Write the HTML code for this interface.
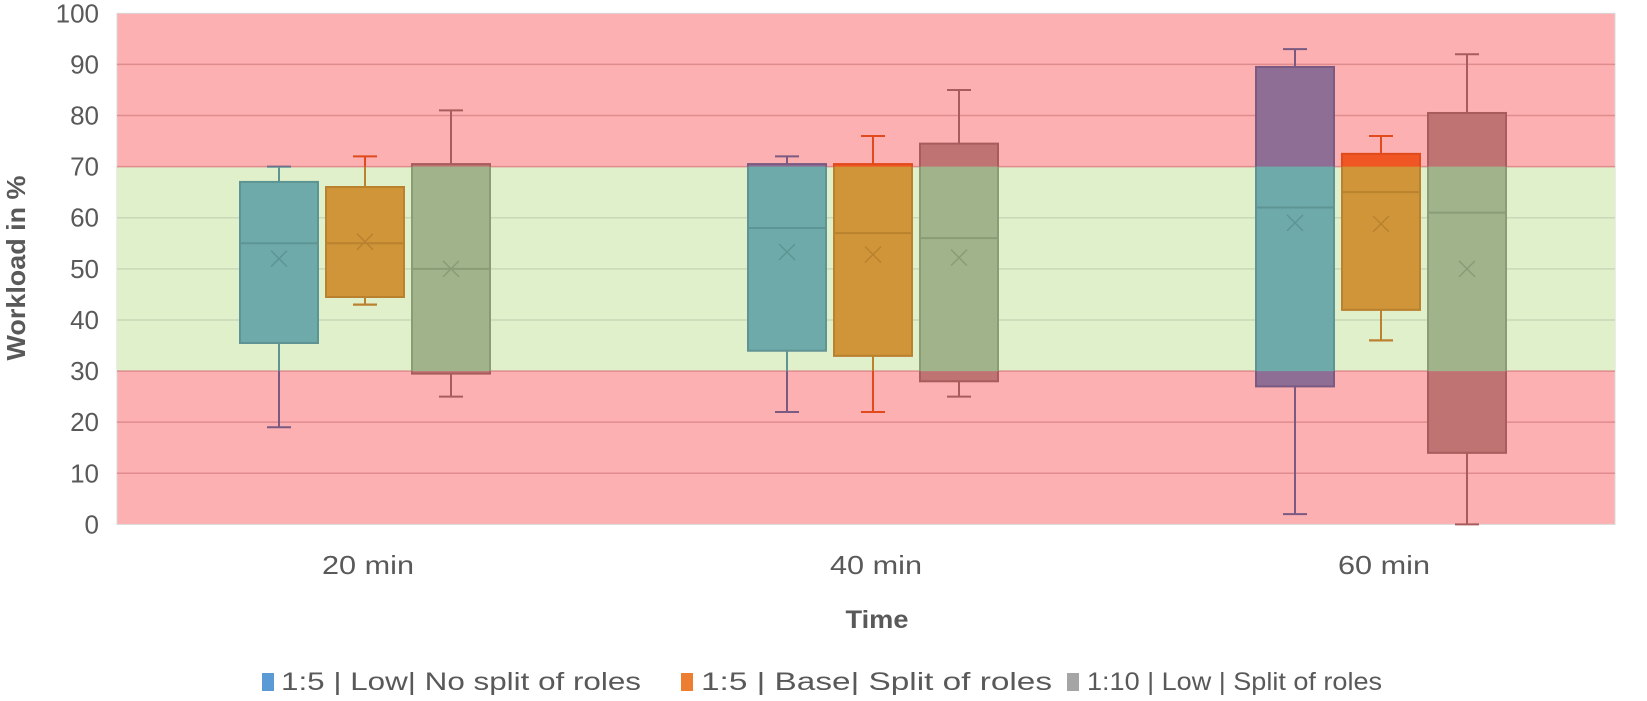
<!DOCTYPE html>
<html><head><meta charset="utf-8"><style>
body{margin:0;background:#fff;}
svg{display:block;font-family:"Liberation Sans",sans-serif;}
</style></head><body>
<svg id="chart" width="1647" height="701" viewBox="0 0 1647 701">
<defs>
<clipPath id="greenClip"><rect id="gclip" x="0" y="0" width="1647" height="0"/></clipPath>
</defs>
<g id="bands"></g>
<g id="grid"></g>
<g id="boxes"></g>
<g id="yticks"></g>
<g id="xticks"></g>
<text x="25" y="268" transform="rotate(-90 25 268)" text-anchor="middle" font-size="26" font-weight="bold" fill="#595959" textLength="185" lengthAdjust="spacingAndGlyphs">Workload in %</text>
<text x="877" y="628" text-anchor="middle" font-size="25" font-weight="bold" fill="#595959" textLength="63" lengthAdjust="spacingAndGlyphs">Time</text>
<g font-size="25" fill="#595959">
<g><rect x="262" y="673" width="12" height="18" fill="#5b9bd5"/><text x="281" y="690" textLength="360" lengthAdjust="spacingAndGlyphs">1:5 | Low| No split of roles</text></g>
<g><rect x="681" y="673" width="12" height="18" fill="#ed7d31"/><text x="701" y="690" textLength="351" lengthAdjust="spacingAndGlyphs">1:5 | Base| Split of roles</text></g>
<g><rect x="1067" y="673" width="12" height="18" fill="#a5a5a5"/><text x="1087" y="690" textLength="295" lengthAdjust="spacingAndGlyphs">1:10 | Low | Split of roles</text></g>
</g>
</svg>
<script>
const categories = ["20 min","40 min","60 min"];
const seriesNames = ["1:5 | Low| No split of roles","1:5 | Base| Split of roles","1:10 | Low | Split of roles"];
const whiskerLow  = [[19,43,25],[22,22,25],[2,36,0]];
const q1          = [[35.5,44.5,29.5],[34,33,28],[27,42,14]];
const median      = [[55,55,50],[58,57,56],[62,65,61]];
const q3          = [[67,66,70.5],[70.5,70.5,74.5],[89.5,72.5,80.5]];
const whiskerHigh = [[70,72,81],[72,76,85],[93,76,92]];
const means       = [[52,55.3,50],[53.3,52.8,52.2],[59,58.8,50]];
const yTicks = [0,10,20,30,40,50,60,70,80,90,100];
const greenBand = [30,70];

const NS="http://www.w3.org/2000/svg";
const L=117,R=1615,T=13.3,B=524.4;
const y=v=>B-(v/100)*(B-T);
const groupW=508;
const gx=i=>L-3+groupW*(i+0.5);
const xc=(i,s)=>gx(i)-3+(s-1)*86;
const BW=78;
const colRed=["#8e6e94","#ef5624","#c07373"];
const colGreen=["#6eaaa9","#d19539","#a0b38b"];
const lineRed=["#7a5a80","#e04a1c","#a85c5c"];
const lineGreen=["#5e9494","#b8822e","#8a9c76"];
function mk(tag,attrs,parent){const e=document.createElementNS(NS,tag);for(const k in attrs)e.setAttribute(k,attrs[k]);parent.appendChild(e);return e;}

const bands=document.getElementById('bands');
let r1=mk('rect',{x:L,y:T,width:R-L,height:B-T,fill:'#fdb0b1',stroke:'#d9d9d9','stroke-width':1},bands);


let r2=mk('rect',{x:L,y:y(greenBand[1]),width:R-L,height:y(greenBand[0])-y(greenBand[1]),fill:'#dff0cb'},bands);


const gc=document.getElementById('gclip');
gc.setAttribute('y',y(greenBand[1]));gc.setAttribute('height',y(greenBand[0])-y(greenBand[1]));

const grid=document.getElementById('grid'),yt=document.getElementById('yticks');
yTicks.forEach(v=>{
  const inG=v>greenBand[0]&&v<greenBand[1];
  if(v>0&&v<100){let g=mk('line',{x1:L,x2:R,y1:y(v),y2:y(v),stroke:inG?'#c9d8b8':'#e08c8f','stroke-width':1.5},grid);
  
  }
  let t=mk('text',{x:99,y:y(v)+9,'text-anchor':'end','font-size':26,fill:'#595959'},yt);t.textContent=v;
  
  
});

const xt=document.getElementById('xticks');
categories.forEach((c,i)=>{let t=mk('text',{x:gx(i),y:574,'text-anchor':'middle','font-size':26,fill:'#595959',textLength:92,lengthAdjust:'spacingAndGlyphs'},xt);t.textContent=c;

});

const boxes=document.getElementById('boxes');
function drawBox(parent,i,s,fill,line){
  const cx=xc(i,s);
  mk('line',{x1:cx,x2:cx,y1:y(whiskerHigh[i][s]),y2:y(q3[i][s]),stroke:line,'stroke-width':2},parent);
  mk('line',{x1:cx,x2:cx,y1:y(q1[i][s]),y2:y(whiskerLow[i][s]),stroke:line,'stroke-width':2},parent);
  mk('line',{x1:cx-12,x2:cx+12,y1:y(whiskerHigh[i][s]),y2:y(whiskerHigh[i][s]),stroke:line,'stroke-width':2},parent);
  mk('line',{x1:cx-12,x2:cx+12,y1:y(whiskerLow[i][s]),y2:y(whiskerLow[i][s]),stroke:line,'stroke-width':2},parent);
  mk('rect',{x:cx-BW/2,y:y(q3[i][s]),width:BW,height:y(q1[i][s])-y(q3[i][s]),fill:fill,stroke:line,'stroke-width':2},parent);
  mk('line',{x1:cx-BW/2,x2:cx+BW/2,y1:y(median[i][s]),y2:y(median[i][s]),stroke:line,'stroke-width':2},parent);
  const my=y(means[i][s]);
  mk('path',{d:`M${cx-8},${my-8}L${cx+8},${my+8}M${cx+8},${my-8}L${cx-8},${my+8}`,stroke:line,'stroke-width':1.5},parent);
}
categories.forEach((c,i)=>seriesNames.forEach((n,s)=>{
  const g=mk('g',{},boxes);
  
  
  drawBox(g,i,s,colRed[s],lineRed[s]);
  const g2=mk('g',{'clip-path':'url(#greenClip)'},g);
  drawBox(g2,i,s,colGreen[s],lineGreen[s]);
}));
</script>
</body></html>
